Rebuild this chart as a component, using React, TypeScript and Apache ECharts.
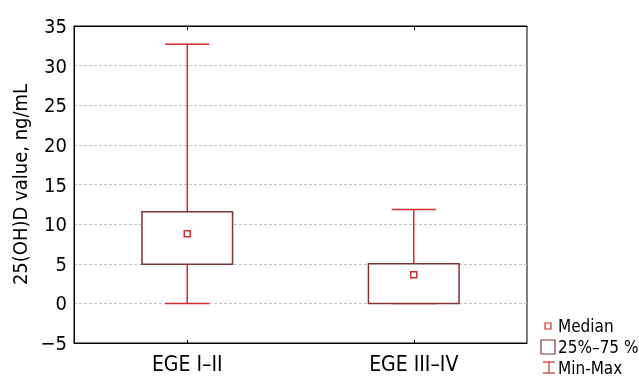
import React, { useEffect, useRef } from "react";
import * as echarts from "echarts";

const categories = ["EGE I–II", "EGE III–IV"];
const mins = [0, 0];
const q1s = [4.95, 0];
const medians = [8.8, 3.6];
const q3s = [11.55, 5.0];
const maxes = [32.7, 11.85];
const yTicks = { min: -5, max: 35, interval: 5 };

const FONT = '"DejaVu Sans Condensed", "Liberation Sans Narrow", sans-serif';
const RED = "#d22b2b";
const BOX = "#7d3434";

export default function App() {
  const ref = useRef<HTMLDivElement>(null);
  useEffect(() => {
    document.body.style.margin = "0";
    const chart = echarts.init(ref.current!, null, { renderer: "svg" });
    const data = categories.map((_, i) => [i, mins[i], q1s[i], medians[i], q3s[i], maxes[i]]);
    chart.setOption({
      animation: false,
      textStyle: { fontFamily: FONT },
      grid: {
        left: 74,
        top: 26,
        right: 112,
        bottom: 35,
        show: true,
        borderColor: "#000",
        borderWidth: 1,
        backgroundColor: "transparent",
      },
      xAxis: [
        {
          type: "category",
          data: categories,
          boundaryGap: true,
          axisLine: { show: true, onZero: false, lineStyle: { color: "#000" } },
          axisTick: { show: true, alignWithLabel: true, inside: true, length: 3, lineStyle: { color: "#000" } },
          axisLabel: { color: "#000", fontSize: 21, fontFamily: FONT, margin: 10 },
          splitLine: { show: false },
        },
        {
          type: "category",
          position: "top",
          data: categories,
          boundaryGap: true,
          axisLine: { show: true, onZero: false, lineStyle: { color: "#000" } },
          axisTick: { show: true, alignWithLabel: true, inside: true, length: 4, lineStyle: { color: "#000" } },
          axisLabel: { show: false },
          splitLine: { show: false },
        },
      ],
      yAxis: {
        type: "value",
        min: yTicks.min,
        max: yTicks.max,
        interval: yTicks.interval,
        name: "25(OH)D value, ng/mL",
        nameLocation: "middle",
        nameGap: 40,
        nameTextStyle: { color: "#000", fontSize: 20, fontFamily: FONT },
        axisLine: { show: true, lineStyle: { color: "#000" } },
        axisTick: { show: false },
        axisLabel: {
          color: "#000",
          fontSize: 20,
          fontFamily: FONT,
          margin: 7,
          formatter: (v: number) => (v < 0 ? "−" + Math.abs(v) : String(v)),
        },
        splitLine: { show: true, lineStyle: { color: "#c4c4c4", type: [3, 2], width: 1 } },
      },
      series: [
        {
          type: "custom",
          xAxisIndex: 0,
          data,
          encode: { x: 0, y: [1, 2, 3, 4, 5] },
          renderItem: (params: any, api: any) => {
            const idx = api.value(0);
            const pMin = api.coord([idx, api.value(1)]);
            const pQ1 = api.coord([idx, api.value(2)]);
            const pMed = api.coord([idx, api.value(3)]);
            const pQ3 = api.coord([idx, api.value(4)]);
            const pMax = api.coord([idx, api.value(5)]);
            const band = api.size([1, 0])[0];
            const bw = band * 0.4;
            const cw = band * 0.195;
            const x = pMed[0];
            const ls = { stroke: RED, lineWidth: 1.5 };
            return {
              type: "group",
              children: [
                { type: "line", shape: { x1: x, y1: pMax[1], x2: x, y2: pQ3[1] }, style: ls },
                { type: "line", shape: { x1: x, y1: pQ1[1], x2: x, y2: pMin[1] }, style: ls },
                { type: "line", shape: { x1: x - cw / 2, y1: pMax[1], x2: x + cw / 2, y2: pMax[1] }, style: ls },
                { type: "line", shape: { x1: x - cw / 2, y1: pMin[1], x2: x + cw / 2, y2: pMin[1] }, style: ls },
                {
                  type: "rect",
                  shape: { x: x - bw / 2, y: pQ3[1], width: bw, height: pQ1[1] - pQ3[1] },
                  style: { fill: "#fff", stroke: BOX, lineWidth: 1.5 },
                },
                {
                  type: "rect",
                  shape: { x: x - 3, y: pMed[1] - 3, width: 6, height: 6 },
                  style: { fill: "#fff", stroke: RED, lineWidth: 1.5 },
                },
              ],
            };
          },
        },
      ],
      graphic: [
        { type: "rect", shape: { x: 545, y: 323, width: 6, height: 6 }, style: { fill: "#fff", stroke: RED, lineWidth: 1.2 } },
        { type: "text", x: 558, y: 326, style: { text: "Median", fill: "#000", font: `17px ${FONT}`, textVerticalAlign: "middle" } },
        { type: "rect", shape: { x: 541, y: 340, width: 14, height: 14 }, style: { fill: "#fff", stroke: BOX, lineWidth: 1.2 } },
        { type: "text", x: 558, y: 347, style: { text: "25%–75 %", fill: "#000", font: `17px ${FONT}`, textVerticalAlign: "middle" } },
        { type: "line", shape: { x1: 543, y1: 362, x2: 555, y2: 362 }, style: { stroke: RED, lineWidth: 1.2 } },
        { type: "line", shape: { x1: 549, y1: 362, x2: 549, y2: 373 }, style: { stroke: RED, lineWidth: 1.2 } },
        { type: "line", shape: { x1: 543, y1: 373, x2: 555, y2: 373 }, style: { stroke: RED, lineWidth: 1.2 } },
        { type: "text", x: 558, y: 368, style: { text: "Min-Max", fill: "#000", font: `17px ${FONT}`, textVerticalAlign: "middle" } },
      ],
    });
    return () => chart.dispose();
  }, []);
  return <div ref={ref} style={{ position: "fixed", left: 0, top: 0, width: 639, height: 378 }} />;
}
